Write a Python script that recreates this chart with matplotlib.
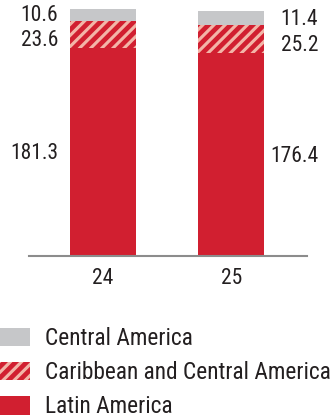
import matplotlib
matplotlib.use("Agg")
import matplotlib.pyplot as plt
import matplotlib.transforms as mtransforms
from matplotlib import font_manager
import numpy as np

categories = ["24", "25"]
latin = [181.3, 176.4]
caribbean = [23.6, 25.2]
central = [10.6, 11.4]
series_names = ["Central America", "Caribbean and Central America", "Latin America"]

RED = "#d11f30"
PINK = "#f3b5a8"
GRAY = "#c6c7c9"
TXT = "#231f20"

names = {f.name for f in font_manager.fontManager.ttflist}
cands = ["Liberation Sans Narrow", "Roboto Condensed", "Open Sans Condensed",
         "Noto Sans Condensed", "Noto Sans Display Condensed", "DejaVu Sans Condensed",
         "Roboto", "Lato"]
chosen = next((c for c in cands if c in names), "DejaVu Sans")
FONT = [chosen, "DejaVu Sans"]

plt.rcParams["font.family"] = FONT
plt.rcParams["hatch.linewidth"] = 3.4
plt.rcParams["hatch.color"] = RED

W, H = 336, 419
fig = plt.figure(figsize=(W / 100, H / 100), dpi=100)

ax_left, ax_right = 29, 307
base_y = 256
ax = fig.add_axes([ax_left / W, (H - base_y) / H, (ax_right - ax_left) / W, base_y / H])

x = np.arange(len(categories))
width = 0.514
b1 = ax.bar(x, latin, width, color=RED, linewidth=0)
b2 = ax.bar(x, caribbean, width, bottom=latin, color=PINK, hatch="///", edgecolor=RED, linewidth=0)
bottom3 = [a + b for a, b in zip(latin, caribbean)]
b3 = ax.bar(x, central, width, bottom=bottom3, color=GRAY, linewidth=0)

ax.set_xlim(-0.576, 1.588)
ax.set_ylim(0, 223)
for s in ["top", "right", "left"]:
    ax.spines[s].set_visible(False)
ax.spines["bottom"].set_color("#8c8c8c")
ax.spines["bottom"].set_linewidth(1.5)
ax.set_yticks([])
ax.set_xticks(x)
fs = 15.5
ax.set_xticklabels(categories, fontsize=fs, color=TXT)
ax.tick_params(axis="x", length=0, pad=9)


def off(dy_px):
    return mtransforms.offset_copy(ax.transData, fig=fig, x=0, y=-dy_px * 0.72, units="points")


lab_x = [-0.35, 1.675]
for i in range(len(categories)):
    xi = lab_x[i]
    ax.text(xi, bottom3[i] + central[i] / 2, f"{central[i]:.1f}", ha="right", va="center",
            fontsize=fs, color=TXT, transform=off(1), clip_on=False)
    ax.text(xi, latin[i] + caribbean[i] / 2, f"{caribbean[i]:.1f}", ha="right", va="center",
            fontsize=fs, color=TXT, transform=off(6), clip_on=False)
    ax.text(xi, latin[i] / 2, f"{latin[i]:.1f}", ha="right", va="center",
            fontsize=fs, color=TXT, transform=off(1.5), clip_on=False)

lfs = 16.8
fs_px = lfs / 72 * 100
leg = fig.legend([b3[0], b2[0], b1[0]], series_names, loc="upper left",
                 bbox_to_anchor=(0, (H - 327) / H), frameon=False, fontsize=lfs,
                 handlelength=30 / fs_px, handleheight=20 / fs_px,
                 handletextpad=15 / fs_px, borderpad=0, borderaxespad=0,
                 labelspacing=0.48, labelcolor=TXT)

fig.savefig("out.png", dpi=100)
